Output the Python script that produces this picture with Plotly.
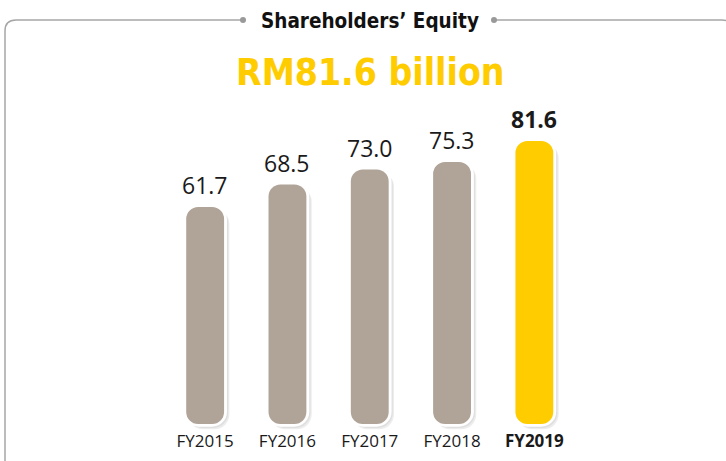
import plotly.graph_objects as go

years = ["FY2015", "FY2016", "FY2017", "FY2018", "FY2019"]
equity = [61.7, 68.5, 73.0, 75.3, 81.6]
value_labels = ["61.7", "68.5", "73.0", "75.3", "<b>81.6</b>"]
tick_labels = ["FY2015", "FY2016", "FY2017", "FY2018", "<b>FY2019</b>"]
headline = "RM81.6 billion"
title = "Shareholders’ Equity"

GREY = "#b0a398"
YELLOW = "#ffcc00"
bar_colors = [GREY, GREY, GREY, GREY, YELLOW]

W, H = 726, 461
BASE = -3.7  # pill bottom sits a little under zero


def px(x):
    return x / W


def py(y):
    return 1 - y / H


def pill(fig, tops, bottom, width, color, radius, shift=0.0):
    """Bar lifted off the axis by a base, rounded at both ends."""
    fig.add_trace(go.Bar(
        x=years,
        y=[t - bottom for t in tops],
        base=[bottom] * len(tops),
        width=width, offset=-width / 2 + shift,
        marker=dict(color=color, cornerradius=radius, line_width=0),
        hoverinfo="skip", showlegend=False,
    ))


fig = go.Figure()

# soft shadow, white rim, then the coloured bar
pill(fig, [v - 0.6 for v in equity], BASE - 1.6, 0.50, "rgba(0,0,0,0.07)", 15, shift=0.045)
pill(fig, [v - 0.3 for v in equity], BASE - 1.2, 0.50, "rgba(0,0,0,0.06)", 15, shift=0.03)
pill(fig, [v + 0.8 for v in equity], BASE - 0.8, 0.53, "#ffffff", 15)
pill(fig, equity, BASE, 0.46, bar_colors, 12)

annotations = []
for yr, v, lab in zip(years, equity, value_labels):
    annotations.append(dict(
        x=yr, y=v, text=lab, showarrow=False, yanchor="bottom", yshift=4,
        font=dict(size=23, color="#1a1a1a", family="Open Sans, sans-serif"),
    ))

annotations.append(dict(
    xref="paper", yref="paper", x=px(370), y=py(21), text=f"<b>{title}</b>",
    showarrow=False, xanchor="center", yanchor="middle",
    font=dict(size=20.5, color="#111111",
              family="Liberation Sans Narrow, DejaVu Sans Condensed, Open Sans, sans-serif"),
))
annotations.append(dict(
    xref="paper", yref="paper", x=px(370), y=py(72), text=f"<b>{headline}</b>",
    showarrow=False, xanchor="center", yanchor="middle",
    font=dict(size=37, color=YELLOW,
              family="Liberation Sans Narrow, DejaVu Sans Condensed, Open Sans, sans-serif"),
))

frame = dict(color="#a6a6a6", width=1.5)
shapes = [
    dict(type="path", xref="paper", yref="paper", line=frame,
         path=(f"M {px(243)} {py(20)} L {px(16)} {py(20)} "
               f"Q {px(5)} {py(20)} {px(5)} {py(31)} L {px(5)} {py(475)}")),
    dict(type="path", xref="paper", yref="paper", line=frame,
         path=(f"M {px(494)} {py(20)} L {px(722)} {py(20)} "
               f"Q {px(733)} {py(20)} {px(733)} {py(31)} L {px(733)} {py(475)}")),
]
for cx in (243, 494):
    shapes.append(dict(
        type="circle", xref="paper", yref="paper",
        x0=px(cx - 3), x1=px(cx + 3), y0=py(23), y1=py(17),
        fillcolor="#999999", line_width=0,
    ))

fig.update_layout(
    width=W, height=H,
    margin=dict(l=0, r=0, t=0, b=0),
    paper_bgcolor="white", plot_bgcolor="white",
    barmode="overlay",
    showlegend=False,
    annotations=annotations,
    shapes=shapes,
    font=dict(family="Open Sans, sans-serif"),
    xaxis=dict(
        domain=[px(164), px(575.5)], range=[-0.5, 4.5],
        tickmode="array", tickvals=years, ticktext=tick_labels,
        tickfont=dict(size=17, color="#1a1a1a"),
        ticklabelstandoff=-1,
        showgrid=False, zeroline=False, showline=False, ticks="",
        fixedrange=True,
    ),
    yaxis=dict(
        domain=[py(430), py(80)], range=[-5.5, 100],
        visible=False, fixedrange=True,
    ),
)

# page body has an 8px margin by default; drop it so the figure sits at 0,0
fig.write_html(
    "out.html",
    config={"displayModeBar": False},
    post_script="document.body.style.margin='0';",
)
